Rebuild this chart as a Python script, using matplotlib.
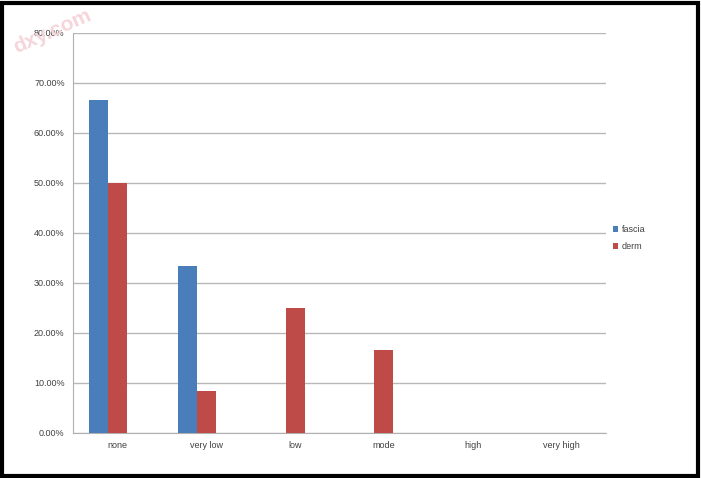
import matplotlib.pyplot as plt
import numpy as np
from matplotlib.patches import Rectangle
from matplotlib.ticker import FuncFormatter

plt.rcParams["font.family"] = ["Liberation Sans", "DejaVu Sans"]

categories = ["none", "very low", "low", "mode", "high", "very high"]
fascia = [66.67, 33.33, 0, 0, 0, 0]
derm = [50.0, 8.33, 25.0, 16.67, 0, 0]

fig = plt.figure(figsize=(7.01, 4.78), dpi=100)
ax = fig.add_axes([73 / 701, 45 / 478, 533 / 701, 400 / 478])

x = np.arange(len(categories))
w = 0.215
# Excel-style cluster with an empty third slot: derm sits on the category centre
ax.bar(x - w, fascia, w, color="#4a7ebb", label="fascia", zorder=3)
ax.bar(x, derm, w, color="#be4b48", label="derm", zorder=3)

ax.set_xlim(-0.5, len(categories) - 0.5)
ax.set_ylim(0, 80)
ax.set_yticks(np.arange(0, 81, 10))
ax.yaxis.set_major_formatter(FuncFormatter(lambda v, p: f"{v:.2f}%"))
ax.set_xticks(x)
ax.set_xticklabels(categories)
ax.grid(axis="y", color="#b8b8b8", linewidth=1, zorder=0)
for s in ["top", "right"]:
    ax.spines[s].set_visible(False)
ax.spines["left"].set_color("#b0b0b0")
ax.spines["bottom"].set_color("#b0b0b0")
ax.tick_params(axis="both", length=0, labelsize=6.5, colors="#404040", pad=6)
ax.tick_params(axis="x", pad=6)

ax.legend(loc="center left", bbox_to_anchor=(0.998, 0.487), frameon=False,
          fontsize=6.5, handlelength=0.6, handleheight=0.6, handletextpad=0.4,
          labelspacing=0.9, labelcolor="#404040")

fig.text(0.075, 0.935, "dxy.com", rotation=24, fontsize=15, color="#f5d5da",
         ha="center", va="center", fontweight="bold")

fig.patches.append(Rectangle((0.003, 0.004), 0.993, 0.99, transform=fig.transFigure,
                             fill=False, edgecolor="black", linewidth=3))

fig.savefig("out.png", dpi=100)
